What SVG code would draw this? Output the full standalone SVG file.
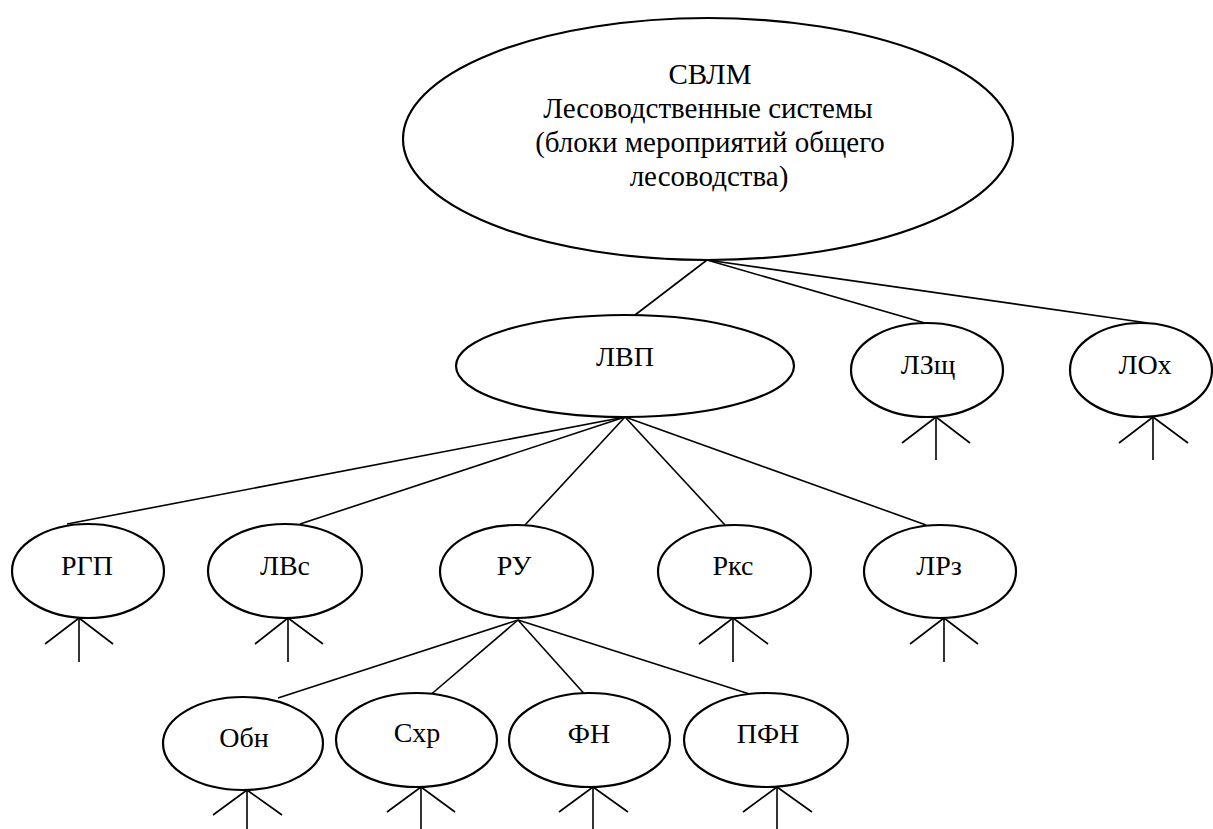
<svg xmlns="http://www.w3.org/2000/svg" width="1213" height="829" viewBox="0 0 1213 829">
<style>
.n{fill:#fff;stroke:#000;stroke-width:2.2}
.c line,.s line{stroke:#000;stroke-width:1.6}
text{fill:#000;text-anchor:middle;font-size:28px;font-family:"Liberation Serif","Times New Roman",serif}
.big{font-size:29px}
</style>
<rect width="1213" height="829" fill="#fff"/>
<g id="connectors" class="c">
<line x1="707" y1="260" x2="635" y2="315"/>
<line x1="707" y1="260" x2="925" y2="323"/>
<line x1="707" y1="260" x2="1148" y2="323"/>
<line x1="625" y1="417" x2="67" y2="524"/>
<line x1="625" y1="417" x2="300" y2="524"/>
<line x1="625" y1="417" x2="525" y2="525"/>
<line x1="625" y1="417" x2="725" y2="525"/>
<line x1="625" y1="417" x2="926" y2="525"/>
<line x1="518" y1="620" x2="278" y2="698"/>
<line x1="518" y1="620" x2="428" y2="697"/>
<line x1="518" y1="620" x2="588" y2="698"/>
<line x1="518" y1="620" x2="762" y2="698"/>
</g>
<g id="svlm">
<ellipse class="n" cx="708" cy="139" rx="305" ry="121"/>
<text class="big" x="710" y="84">СВЛМ</text>
<text class="big" x="708" y="118">Лесоводственные системы</text>
<text class="big" x="710" y="152">(блоки мероприятий общего</text>
<text class="big" x="709" y="186">лесоводства)</text>
</g>
<g id="lvp">
<ellipse class="n" cx="625" cy="366" rx="169" ry="51"/>
<text x="625" y="366">ЛВП</text>
</g>
<g id="lzsch">
<ellipse class="n" cx="927" cy="370" rx="76" ry="47"/>
<text x="928" y="374">ЛЗщ</text>
<g class="s"><line x1="936" y1="417" x2="936" y2="460"/><line x1="936" y1="417" x2="902" y2="443"/><line x1="936" y1="417" x2="970" y2="443"/></g>
</g>
<g id="lokh">
<ellipse class="n" cx="1141" cy="370" rx="71" ry="47"/>
<text x="1145" y="374">ЛОх</text>
<g class="s"><line x1="1153" y1="417" x2="1153" y2="460"/><line x1="1153" y1="417" x2="1119" y2="443"/><line x1="1153" y1="417" x2="1188" y2="443"/></g>
</g>
<g id="rgp">
<ellipse class="n" cx="88" cy="571" rx="76" ry="47"/>
<text x="87" y="575">РГП</text>
<g class="s"><line x1="79" y1="618" x2="79" y2="662"/><line x1="79" y1="618" x2="45" y2="644"/><line x1="79" y1="618" x2="113" y2="644"/></g>
</g>
<g id="lvs">
<ellipse class="n" cx="285" cy="571" rx="77" ry="47"/>
<text x="285" y="575">ЛВс</text>
<g class="s"><line x1="288" y1="618" x2="288" y2="662"/><line x1="288" y1="618" x2="255" y2="644"/><line x1="288" y1="618" x2="323" y2="644"/></g>
</g>
<g id="ru">
<ellipse class="n" cx="516.500" cy="571.500" rx="76.500" ry="46.500"/>
<text x="514" y="575">РУ</text>
</g>
<g id="rks">
<ellipse class="n" cx="734.500" cy="571.500" rx="76.500" ry="46.500"/>
<text x="733" y="575">Ркс</text>
<g class="s"><line x1="733" y1="618" x2="733" y2="662"/><line x1="733" y1="618" x2="699" y2="644"/><line x1="733" y1="618" x2="768" y2="644"/></g>
</g>
<g id="lrz">
<ellipse class="n" cx="940" cy="571.500" rx="76" ry="46.500"/>
<text x="939" y="575">ЛРз</text>
<g class="s"><line x1="944" y1="618" x2="944" y2="662"/><line x1="944" y1="618" x2="910" y2="644"/><line x1="944" y1="618" x2="978" y2="644"/></g>
</g>
<g id="obn">
<ellipse class="n" cx="243" cy="743.500" rx="80" ry="46.500"/>
<text x="244" y="747">Обн</text>
<g class="s"><line x1="247" y1="790" x2="247" y2="829"/><line x1="247" y1="790" x2="213" y2="815"/><line x1="247" y1="790" x2="282" y2="815"/></g>
</g>
<g id="skhr">
<ellipse class="n" cx="416.500" cy="740" rx="80.500" ry="47"/>
<text x="417" y="742">Схр</text>
<g class="s"><line x1="421" y1="787" x2="421" y2="829"/><line x1="421" y1="787" x2="387" y2="812"/><line x1="421" y1="787" x2="455" y2="812"/></g>
</g>
<g id="fn">
<ellipse class="n" cx="589.500" cy="740" rx="80.500" ry="47"/>
<text x="589" y="743">ФН</text>
<g class="s"><line x1="593" y1="787" x2="593" y2="829"/><line x1="593" y1="787" x2="559" y2="812"/><line x1="593" y1="787" x2="628" y2="812"/></g>
</g>
<g id="pfn">
<ellipse class="n" cx="766" cy="740" rx="82" ry="47"/>
<text x="768" y="743">ПФН</text>
<g class="s"><line x1="777" y1="787" x2="777" y2="829"/><line x1="777" y1="787" x2="743" y2="812"/><line x1="777" y1="787" x2="812" y2="812"/></g>
</g>
</svg>
